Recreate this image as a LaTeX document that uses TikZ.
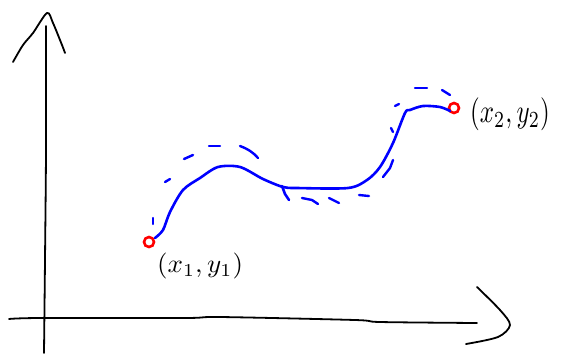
\documentclass[tikz,border=0pt]{standalone}
\usepackage{graphicx}
\begin{document}
\begin{tikzpicture}[x=1pt,y=-1pt,
  ax/.style={line width=1.8pt, line cap=round, line join=round, black},
  crv/.style={line width=2.6pt, line cap=round, line join=round, blue},
  dsh/.style={line width=2.4pt, line cap=round, blue},
  pt/.style={circle, draw=red, line width=2.6pt, minimum size=10pt, inner sep=0pt},
  lbl/.style={inner sep=0pt}]
\useasboundingbox (0,0) rectangle (562,357);
% axes
\draw[ax] plot[smooth] coordinates {(46,26) (46,150) (45,260) (44,353)};
\draw[ax] plot[smooth] coordinates {(13,62) (23,45) (33,33) (47,13) (53,23) (62,45) (65,53)};
\draw[ax] plot[smooth] coordinates {(9,319) (40,318) (185,318) (220,317) (355,320) (380,322) (477,323)};
\draw[ax] plot[smooth] coordinates {(477,287) (500,310) (510,325) (498,337) (466,344)};
% points
\node[pt] (p1) at (149,242) {};
\node[pt] (p2) at (454,108) {};
% curve
\draw[crv] (p1) plot[smooth] coordinates {(155,238) (163,230) (170,212) (183,190) (200,178) (218,167) (240,167) (263,179) (283,187) (297,188) (348,188) (367,180) (380,167) (393,143) (405,113) (410,110) (423,106) (440,107) (450,111)};
\draw[crv] (282,186) -- (285,194) -- (289,200);
% dashes
\draw[dsh] (153,218) -- (153,224);
\draw[dsh] (165,182) -- (170,179);
\draw[dsh] (184,159) -- (193,155);
\draw[dsh] (209,146) -- (220,146);
\draw[dsh] (240,146) .. controls (248,149) and (254,153) .. (258,158);
\draw[dsh] (302,198) -- (312,200) -- (318,204);
\draw[dsh] (329,198) -- (339,203);
\draw[dsh] (359,195) -- (369,196);
\draw[dsh] (383,177) -- (390,168) -- (393,160);
\draw[dsh] (391,128) -- (393,132);
\draw[dsh] (395,106) -- (399,104);
\draw[dsh] (415,88) -- (427,88);
\draw[dsh] (442,90) -- (450,95);
% labels
\node[lbl, anchor=north west] (l1) at (157,253) {\scalebox{2.7}[2.6]{$(x_1,y_1)$}};
\node[lbl, anchor=west] (l2) at (470,114) {\scalebox{2.5}[3.3]{$(x_2,y_2)$}};
\end{tikzpicture}
\end{document}
